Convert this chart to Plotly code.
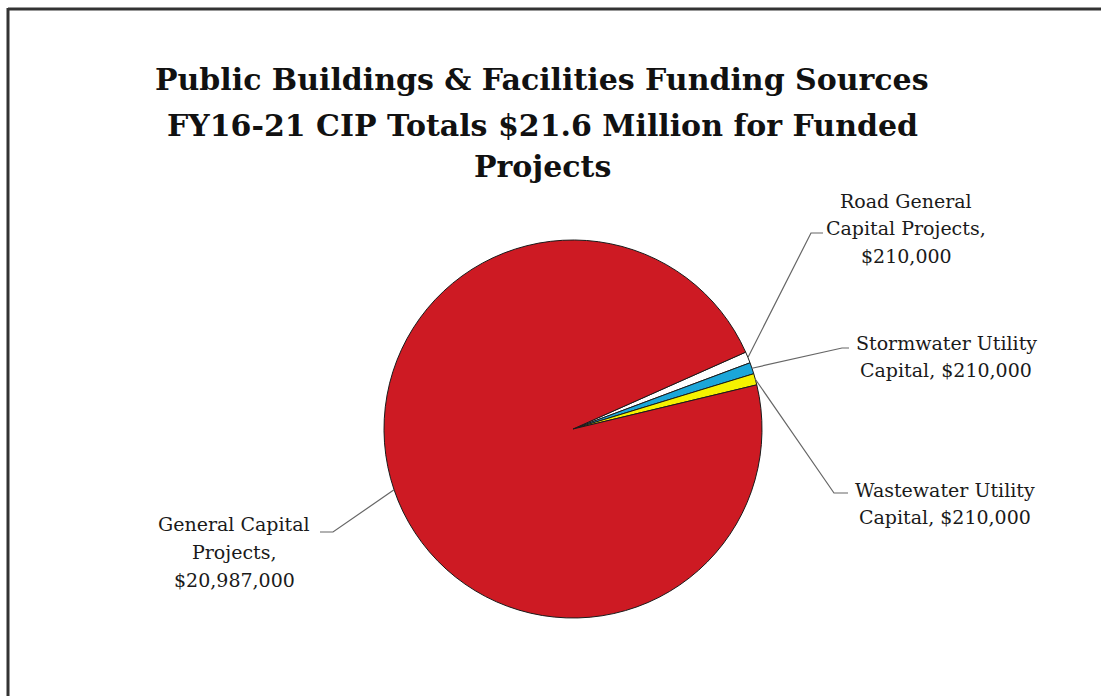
import math
import plotly.graph_objects as go

# ---- data ----
categories = ["Road General Capital Projects", "Stormwater Utility Capital",
              "Wastewater Utility Capital", "General Capital Projects"]
values = [210000, 210000, 210000, 20987000]
label_lines = [
    ["Road General", "Capital Projects,", "${v}"],
    ["Stormwater Utility", "Capital, ${v}"],
    ["Wastewater Utility", "Capital, ${v}"],
    ["General Capital", "Projects,", "${v}"],
]
colors = ["#FFFFFF", "#1BA6D9", "#F5F200", "#CD1A23"]
title_lines = ["Public Buildings & Facilities Funding Sources",
               "FY16-21 CIP Totals $21.6 Million for Funded",
               "Projects"]

# ---- layout constants (pixels) ----
W, H = 1101, 696
CX, CY, R = 573, 429, 189
ROT = 66

def px(x):
    return x / W

def py(y):
    return 1 - y / H

fig = go.Figure(go.Pie(
    labels=categories, values=values, sort=False, direction="clockwise",
    rotation=ROT, textinfo="none", hoverinfo="label+value",
    marker=dict(colors=colors, line=dict(color="#1a1a1a", width=1)),
    domain=dict(x=[px(CX - R), px(CX + R)], y=[py(CY + R), py(CY - R)]),
    showlegend=False,
))

# label anchor settings: (center x, first line y, line spacing, elbow, horizontal end)
label_pos = [
    dict(x=906, y=201, dy=27.5, elbow=(811, 233), end=(823, 233)),
    dict(x=946, y=343, dy=27, elbow=(842, 348), end=(849, 348)),
    dict(x=945, y=490, dy=27, elbow=(834, 493), end=(848, 493)),
    dict(x=234, y=524, dy=28, elbow=(333, 532), end=(320, 532)),
]

total = sum(values)
cum = 0
annotations = []
shapes = []
for cat, v, lines, pos in zip(categories, values, label_lines, label_pos):
    theta = math.radians(ROT + 360 * (cum + v / 2) / total)
    cum += v
    ex = CX + R * math.sin(theta)
    ey = CY - R * math.cos(theta)
    vstr = f"{v:,}"
    for i, ln in enumerate(lines):
        annotations.append(dict(
            x=px(pos["x"]), y=py(pos["y"] + i * pos["dy"]), xref="paper", yref="paper",
            text=ln.replace("{v}", vstr), showarrow=False, xanchor="center", yanchor="middle",
            font=dict(family="DejaVu Serif", size=19, color="#1a1a1a")))
    (bx, by), (hx, hy) = pos["elbow"], pos["end"]
    shapes.append(dict(
        type="path", xref="paper", yref="paper",
        path=f"M {px(ex)} {py(ey)} L {px(bx)} {py(by)} L {px(hx)} {py(hy)}",
        line=dict(color="#666666", width=1.2)))

title_y = [80, 126, 166]
for t, ty in zip(title_lines, title_y):
    annotations.append(dict(
        x=px(542), y=py(ty), xref="paper", yref="paper", text=f"<b>{t}</b>",
        showarrow=False, xanchor="center", yanchor="middle",
        font=dict(family="DejaVu Serif", size=30, color="#111111")))

# frame lines (left & top)
shapes.append(dict(type="line", xref="paper", yref="paper", x0=px(8), x1=px(8),
                   y0=0, y1=py(8), line=dict(color="#333333", width=3)))
shapes.append(dict(type="line", xref="paper", yref="paper", x0=px(8), x1=1,
                   y0=py(9), y1=py(9), line=dict(color="#333333", width=3)))

fig.update_layout(
    width=W, height=H, margin=dict(l=0, r=0, t=0, b=0),
    paper_bgcolor="white", plot_bgcolor="white",
    annotations=annotations, shapes=shapes,
)

fig.write_html("out.html", config={"displayModeBar": False},
               post_script="document.body.style.margin='0';")
